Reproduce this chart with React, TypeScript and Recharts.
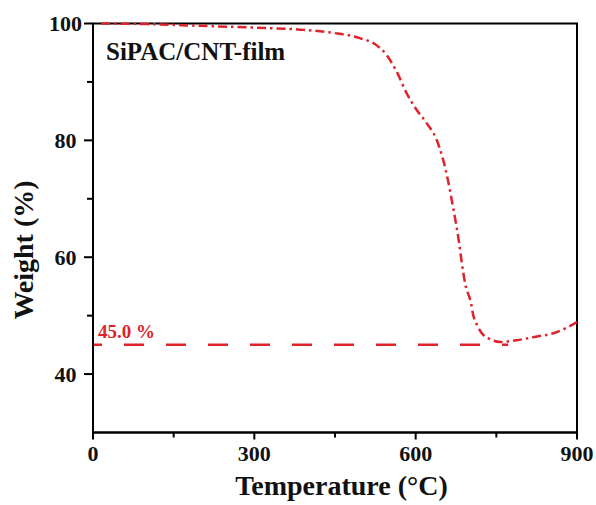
import React from "react";
import { LineChart, Line, XAxis, YAxis, ReferenceLine, ReferenceArea, ReferenceDot, Label } from "recharts";

const temperature = [15, 100, 200, 300, 385, 446, 496, 527, 546, 565, 583, 602, 620, 639, 651, 660, 667, 681, 686, 692, 703, 707, 714, 723, 738, 757, 788, 818, 863, 900];
const weight = [100.0, 99.9, 99.6, 99.3, 98.95, 98.4, 97.5, 96.3, 94.6, 91.7, 88.1, 85.2, 83.0, 80.1, 76.7, 73.2, 69.8, 62.3, 58.9, 55.5, 52.1, 50.1, 48.4, 47.0, 46.0, 45.5, 45.8, 46.3, 47.2, 48.9];

const xTicks = [0, 150, 300, 450, 600, 750, 900];
const xLabels = [0, 300, 600, 900];
const yTicks = [40, 50, 60, 70, 80, 90, 100];
const yLabels = [40, 60, 80, 100];

const residue = 45.0;
const residueEnd = 772;
const residueLabel = "45.0 %";
const sampleName = "SiPAC/CNT-film";
const xTitle = "Temperature (\u00B0C)";
const yTitle = "Weight (%)";

const data = temperature.map((t, i) => ({ t, w: weight[i] }));

const RED = "#e0222a";
const FONT = "'Times New Roman', 'Liberation Serif', serif";

const XTick = (props: any) => {
  const { x, y, payload } = props;
  const v = payload.value;
  const major = xLabels.includes(v);
  return (
    <g>
      <line x1={x} x2={x} y1={y} y2={y + (major ? 7 : 5)} stroke="#000" strokeWidth={2} />
      {major && (
        <text x={x} y={y + 28} textAnchor="middle" fontFamily={FONT} fontWeight="bold" fontSize={22} fill="#111">
          {v}
        </text>
      )}
    </g>
  );
};

const YTick = (props: any) => {
  const { x, y, payload } = props;
  const v = payload.value;
  const major = yLabels.includes(v);
  return (
    <g>
      <line x1={x - (major ? 9 : 6)} x2={x} y1={y} y2={y} stroke="#000" strokeWidth={2} />
      {major && (
        <text x={x - 27.5} y={y + 7.5} textAnchor="middle" fontFamily={FONT} fontWeight="bold" fontSize={22} fill="#111">
          {v}
        </text>
      )}
    </g>
  );
};

export default function App() {
  return (
    <div style={{ position: "fixed", left: 0, top: 0, width: 596, height: 505, background: "#fff" }}>
      <LineChart width={596} height={505} data={data} margin={{ top: 23.5, right: 19, bottom: 32.5, left: 0 }}>
        <XAxis
          dataKey="t"
          type="number"
          domain={[0, 900]}
          ticks={xTicks}
          interval={0}
          tickSize={0}
          tickMargin={0}
          tickLine={false}
          tick={<XTick />}
          axisLine={{ stroke: "#000", strokeWidth: 2 }}
          height={40}
        >
          <Label
            content={(p: any) => {
              const vb = p.viewBox || { x: 93, y: 432.5, width: 484, height: 40 };
              return (
                <text x={vb.x + vb.width / 2 + 6.5} y={495} textAnchor="middle" fontFamily={FONT} fontWeight="bold" fontSize={28} fill="#111">
                  {xTitle}
                </text>
              );
            }}
          />
        </XAxis>
        <YAxis
          type="number"
          domain={[30, 100]}
          ticks={yTicks}
          interval={0}
          tickSize={0}
          tickMargin={0}
          tickLine={false}
          tick={<YTick />}
          axisLine={{ stroke: "#000", strokeWidth: 2 }}
          width={93}
        >
          <Label
            content={(p: any) => {
              const vb = p.viewBox || { x: 0, y: 23.5, width: 93, height: 409 };
              const cx = 33;
              const cy = vb.y + vb.height / 2 + 22;
              return (
                <text x={cx} y={cy} transform={`rotate(-90 ${cx} ${cy})`} textAnchor="middle" fontFamily={FONT} fontWeight="bold" fontSize={28} fill="#111">
                  {yTitle}
                </text>
              );
            }}
          />
        </YAxis>
        <ReferenceArea x1={0} x2={900} y1={30} y2={100} fill="none" stroke="#000" strokeWidth={2} ifOverflow="visible" />
        <ReferenceLine
          segment={[{ x: 0, y: residue }, { x: residueEnd, y: residue }]}
          stroke={RED}
          strokeWidth={2.5}
          strokeDasharray="20 22"
          strokeDashoffset={11}
          ifOverflow="visible"
        >
          <Label
            content={(p: any) => {
              const vb = p.viewBox || { x: 93, y: 345 };
              return (
                <text x={vb.x + 5} y={vb.y - 7} fontFamily={FONT} fontWeight="bold" fontSize={19} fill={RED}>
                  {residueLabel}
                </text>
              );
            }}
          />
        </ReferenceLine>
        <ReferenceDot x={0} y={100} r={0} fill="none" stroke="none" ifOverflow="visible">
          <Label
            content={(p: any) => {
              const vb = p.viewBox || { x: 93, y: 23.5 };
              return (
                <text x={vb.x + 13} y={vb.y + 36.5} fontFamily={FONT} fontWeight="bold" fontSize={25} fill="#111">
                  {sampleName}
                </text>
              );
            }}
          />
        </ReferenceDot>
        <Line
          type="monotone"
          dataKey="w"
          stroke={RED}
          strokeWidth={2.5}
          strokeDasharray="9 4 2.5 4"
          dot={false}
          isAnimationActive={false}
        />
      </LineChart>
    </div>
  );
}
